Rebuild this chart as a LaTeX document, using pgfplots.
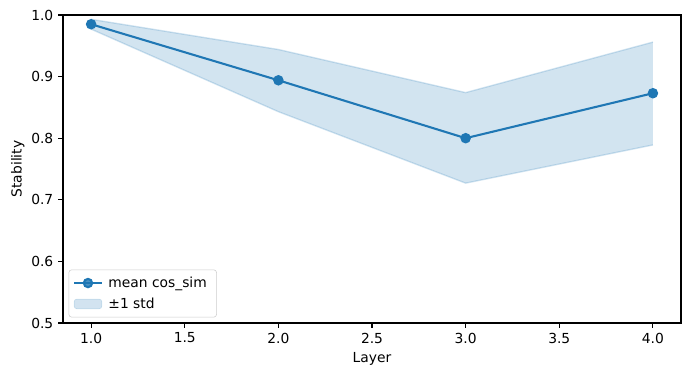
\documentclass[border=0pt]{standalone}
\usepackage{pgfplots}
\pgfplotsset{compat=1.18}
\usepgfplotslibrary{fillbetween}
\usetikzlibrary{calc}
\usepackage{fontspec}
\setmainfont{DejaVu Sans}
\definecolor{c0}{HTML}{1F77B4}

\begin{document}
\begin{tikzpicture}
\begin{axis}[
    scale only axis,
    width=445bp, height=221.8bp,
    xmin=0.85, xmax=4.15,
    ymin=0.5, ymax=1.0,
    xtick={1.0,1.5,...,4.0},
    ytick={0.5,0.6,...,1.0},
    xticklabel style={/pgf/number format/.cd,fixed,fixed zerofill,precision=1},
    yticklabel style={/pgf/number format/.cd,fixed,fixed zerofill,precision=1},
    /pgf/number format/assume math mode=true,
    tick align=outside,
    major tick length=3.5bp,
    tick style={black, line width=0.8bp},
    axis line style={line width=0.8bp},
    xtick pos=bottom, ytick pos=left,
    ticklabel style={font=\fontsize{10}{12}\selectfont},
    label style={font=\fontsize{10}{12}\selectfont},
    xlabel={Layer}, ylabel={Stability},
    xlabel style={yshift=0bp},
    ylabel style={yshift=-2bp},
    legend cell align=left,
    legend style={
        at={(0.009,0.018)}, anchor=south west,
        draw=black!20, rounded corners=2bp, fill=white, fill opacity=0.8, text opacity=1,
        font=\fontsize{10}{12}\selectfont,
        inner xsep=3bp, inner ysep=3bp, row sep=2bp,
        nodes={inner xsep=4bp}
    },
    legend image code/.code={
        \draw[#1] (0bp,0bp) -- (20bp,0bp);
        \draw[#1, only marks] plot coordinates {(10bp,0bp)};
    },
]
  % band edges
  \addplot[name path=upper, c0, opacity=0.2, line width=1bp, forget plot]
    coordinates {(1,0.993) (2,0.944) (3,0.874) (4,0.956)};
  \addplot[name path=lower, c0, opacity=0.2, line width=1bp, forget plot]
    coordinates {(1,0.977) (2,0.843) (3,0.727) (4,0.789)};

  % mean
  \addplot[c0, line width=1.5bp, mark=*, mark size=3bp, mark options={fill=c0, draw=c0}]
    coordinates {(1,0.985) (2,0.894) (3,0.800) (4,0.873)};
  \addlegendentry{mean cos\_sim}

  \addplot[fill=c0, fill opacity=0.2, draw=none, area legend,
    legend image code/.code={\fill[c0, fill opacity=0.2, draw=c0, draw opacity=0.2] (0bp,-3.5bp) rectangle (20bp,3.5bp);}]
    fill between[of=upper and lower];
  \addlegendentry{±1 std}
\end{axis}
\path[use as bounding box] ($(current axis.south west)+(-45.4bp,-38.2bp)$) rectangle ($(current axis.north east)+(7.2bp,10.8bp)$);
\end{tikzpicture}
\end{document}
